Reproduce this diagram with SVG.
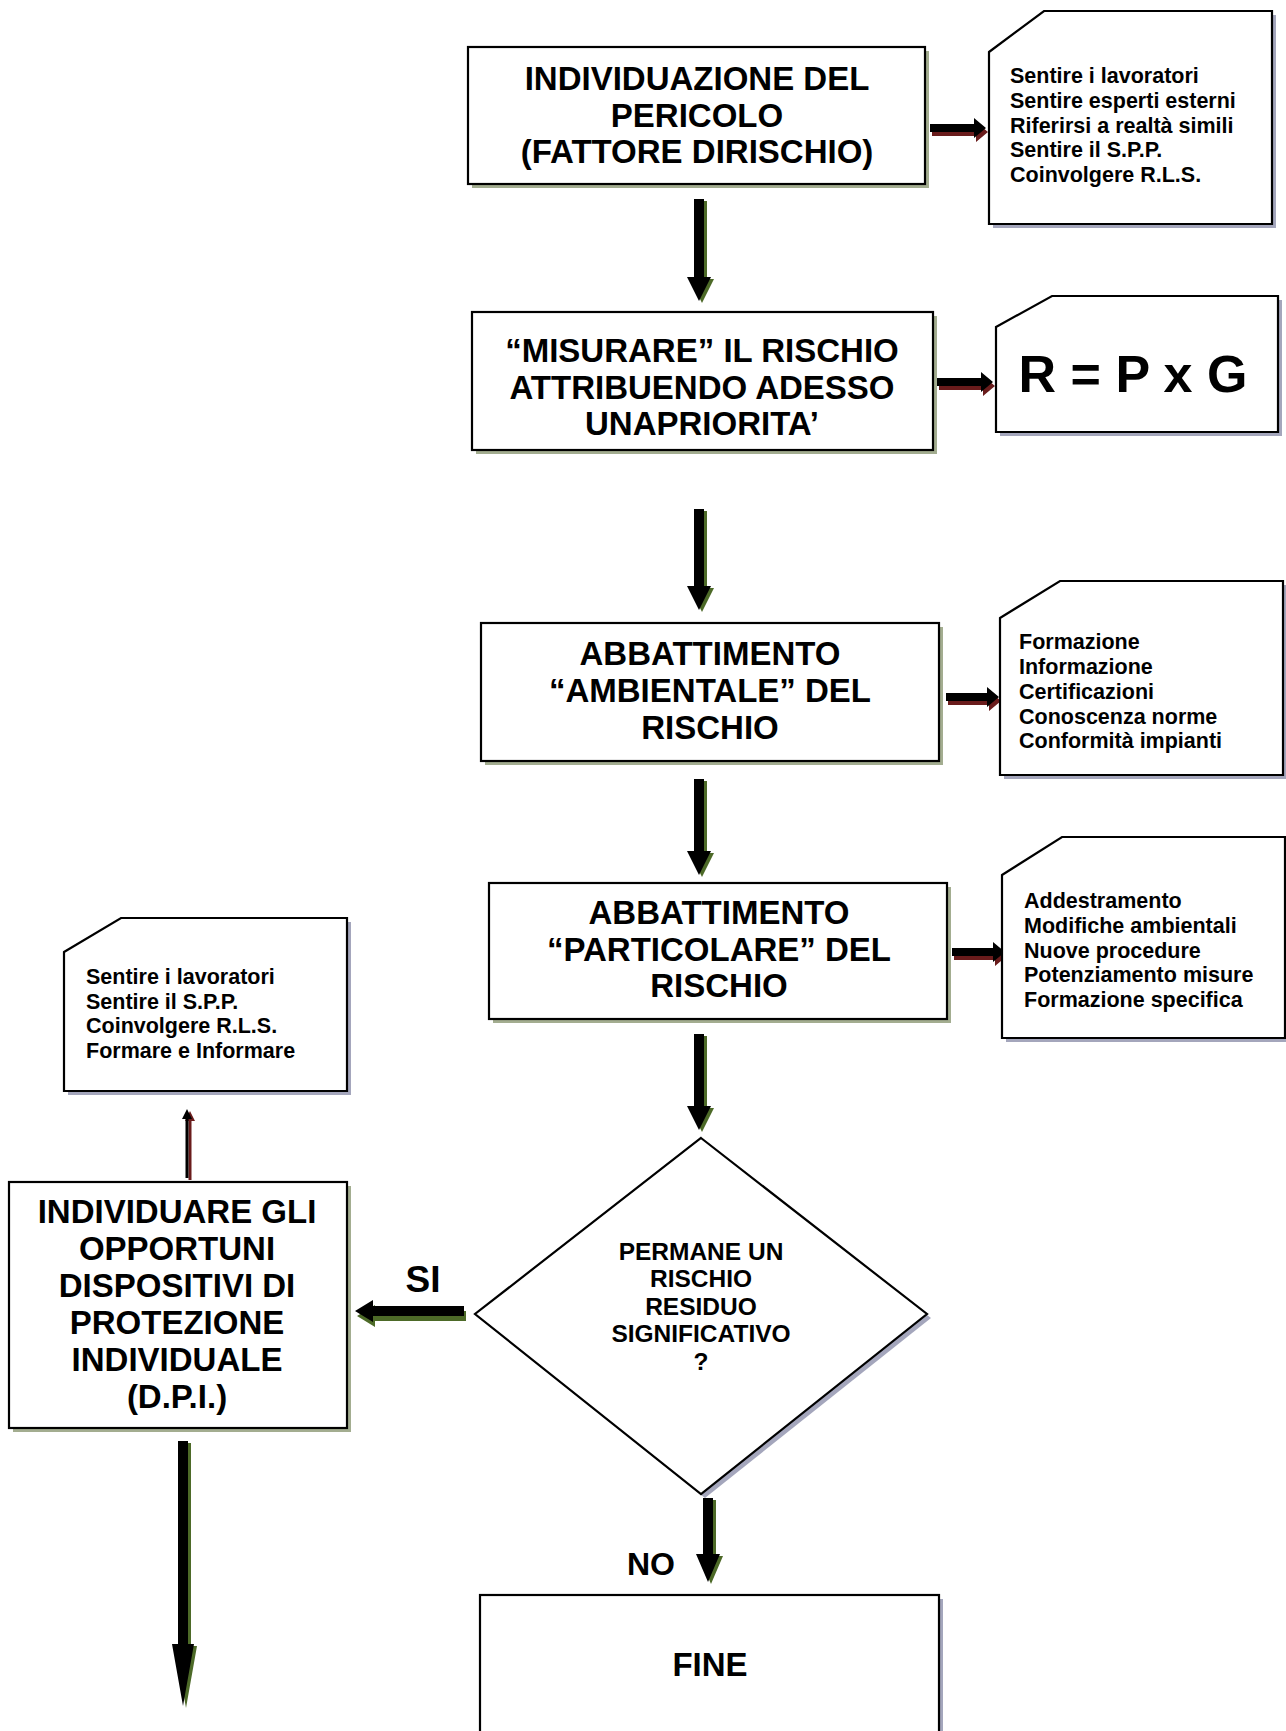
<svg xmlns="http://www.w3.org/2000/svg" xmlns:xlink="http://www.w3.org/1999/xlink" width="1286" height="1731" viewBox="0 0 1286 1731">
<style>
.box{fill:#fff;stroke:#000;stroke-width:2.2}
.bsh{fill:#a3ad90}
.nsh{fill:#a4a6bc}
.t{font-family:"Liberation Sans",Arial,sans-serif;font-weight:bold;fill:#000}
.big{font-size:33px;text-anchor:middle}
.note{font-size:21.5px}
.dia{font-size:24.5px;text-anchor:middle}
.blk{fill:#000}
.shR{fill:#6a1c1c}
.shG{fill:#4d6a28}
</style>
<defs>
<path id="ar1" d="M930 124 H974 V118 L986 128 L974 138 V132 H930 Z"/>
<path id="ar2" d="M937 378 H981 V372 L993 382 L981 392 V386 H937 Z"/>
<path id="ar3" d="M946 693 H987 V687 L999 697 L987 707 V701 H946 Z"/>
<path id="ar4" d="M952 948 H993 V942 L1005 952 L993 962 V956 H952 Z"/>
<path id="d1" d="M694 199 V277 H687 L699 301 L711 277 H704 V199 Z"/>
<path id="d2" d="M694 509 V586 H687 L699 610 L711 586 H704 V509 Z"/>
<path id="d3" d="M694 779 V851 H687 L699 875 L711 851 H704 V779 Z"/>
<path id="d4" d="M694 1034 V1106 H687 L699 1130 L711 1106 H704 V1034 Z"/>
<path id="dno" d="M703 1498 V1554 H696 L708 1582 L720 1554 H713 V1498 Z"/>
<path id="ddpi" d="M178 1441 V1644 H172 L183 1706 L194 1644 H188 V1441 Z"/>
<path id="asi" d="M464 1306 H373 V1300 L355 1311 L373 1322 V1316 H464 Z"/>
<path id="aup" d="M185.5 1178 V1119 H182 L187 1109 L192 1119 H188.5 V1178 Z"/>
</defs>

<g id="connectors">
<use xlink:href="#ar1" class="shR" x="2" y="4"/><use xlink:href="#ar1" class="blk"/>
<use xlink:href="#ar2" class="shR" x="2" y="4"/><use xlink:href="#ar2" class="blk"/>
<use xlink:href="#ar3" class="shR" x="2" y="4"/><use xlink:href="#ar3" class="blk"/>
<use xlink:href="#ar4" class="shR" x="2" y="4"/><use xlink:href="#ar4" class="blk"/>
<use xlink:href="#d1" class="shG" x="3" y="2"/><use xlink:href="#d1" class="blk"/>
<use xlink:href="#d2" class="shG" x="3" y="2"/><use xlink:href="#d2" class="blk"/>
<use xlink:href="#d3" class="shG" x="3" y="2"/><use xlink:href="#d3" class="blk"/>
<use xlink:href="#d4" class="shG" x="3" y="2"/><use xlink:href="#d4" class="blk"/>
<use xlink:href="#dno" class="shG" x="3" y="2"/><use xlink:href="#dno" class="blk"/>
<use xlink:href="#ddpi" class="shG" x="3" y="2"/><use xlink:href="#ddpi" class="blk"/>
<use xlink:href="#asi" class="shG" x="2" y="5"/><use xlink:href="#asi" class="blk"/>
<use xlink:href="#aup" class="shR" x="3" y="2"/><use xlink:href="#aup" class="blk"/>
</g>

<g id="box1">
<rect class="bsh" x="472" y="51" width="457" height="137"/>
<rect class="box" x="468" y="47" width="457" height="137"/>
<text class="t big" x="697"><tspan y="90">INDIVIDUAZIONE DEL</tspan><tspan x="697" y="127">PERICOLO</tspan><tspan x="697" y="163">(FATTORE DIRISCHIO)</tspan></text>
</g>

<g id="note1">
<path class="nsh" d="M993 56 L1048 15 H1276 V228 H993 Z"/>
<path class="box" d="M989 52 L1044 11 H1272 V224 H989 Z"/>
<text class="t note" x="1010"><tspan y="83">Sentire i lavoratori</tspan><tspan x="1010" y="108">Sentire esperti esterni</tspan><tspan x="1010" y="133">Riferirsi a realtà simili</tspan><tspan x="1010" y="157">Sentire il S.P.P.</tspan><tspan x="1010" y="182">Coinvolgere R.L.S.</tspan></text>
</g>

<g id="box2">
<rect class="bsh" x="476" y="316" width="461" height="138"/>
<rect class="box" x="472" y="312" width="461" height="138"/>
<text class="t big" x="702"><tspan y="362">“MISURARE” IL RISCHIO</tspan><tspan x="702" y="399">ATTRIBUENDO ADESSO</tspan><tspan x="702" y="435">UNAPRIORITA’</tspan></text>
</g>

<g id="note2">
<path class="nsh" d="M1000 331 L1056 300 H1282 V436 H1000 Z"/>
<path class="box" d="M996 327 L1052 296 H1278 V432 H996 Z"/>
<text class="t" x="1133" y="392" style="font-size:52px;text-anchor:middle">R = P x G</text>
</g>

<g id="box3">
<rect class="bsh" x="485" y="627" width="458" height="138"/>
<rect class="box" x="481" y="623" width="458" height="138"/>
<text class="t big" x="710"><tspan y="665">ABBATTIMENTO</tspan><tspan x="710" y="702">“AMBIENTALE” DEL</tspan><tspan x="710" y="739">RISCHIO</tspan></text>
</g>

<g id="note3">
<path class="nsh" d="M1004 622 L1064 585 H1287 V779 H1004 Z"/>
<path class="box" d="M1000 618 L1060 581 H1283 V775 H1000 Z"/>
<text class="t note" x="1019"><tspan y="649">Formazione</tspan><tspan x="1019" y="674">Informazione</tspan><tspan x="1019" y="699">Certificazioni</tspan><tspan x="1019" y="724">Conoscenza norme</tspan><tspan x="1019" y="748">Conformità impianti</tspan></text>
</g>

<g id="box4">
<rect class="bsh" x="493" y="887" width="458" height="136"/>
<rect class="box" x="489" y="883" width="458" height="136"/>
<text class="t big" x="719"><tspan y="924">ABBATTIMENTO</tspan><tspan x="719" y="961">“PARTICOLARE” DEL</tspan><tspan x="719" y="997">RISCHIO</tspan></text>
</g>

<g id="note4">
<path class="nsh" d="M1006 879 L1066 841 H1289 V1042 H1006 Z"/>
<path class="box" d="M1002 875 L1062 837 H1285 V1038 H1002 Z"/>
<text class="t note" x="1024"><tspan y="908">Addestramento</tspan><tspan x="1024" y="933">Modifiche ambientali</tspan><tspan x="1024" y="958">Nuove procedure</tspan><tspan x="1024" y="982">Potenziamento misure</tspan><tspan x="1024" y="1007">Formazione specifica</tspan></text>
</g>

<g id="decision">
<polygon class="nsh" points="705,1142 931,1318 705,1498 479,1318"/>
<polygon class="box" points="701,1138 927,1314 701,1494 475,1314"/>
<text class="t dia" x="701"><tspan y="1260">PERMANE UN</tspan><tspan x="701" y="1287">RISCHIO</tspan><tspan x="701" y="1315">RESIDUO</tspan><tspan x="701" y="1342">SIGNIFICATIVO</tspan><tspan x="701" y="1370">?</tspan></text>
</g>

<g id="note5">
<path class="nsh" d="M68 956 L125 922 H351 V1095 H68 Z"/>
<path class="box" d="M64 952 L121 918 H347 V1091 H64 Z"/>
<text class="t note" x="86"><tspan y="984">Sentire i lavoratori</tspan><tspan x="86" y="1009">Sentire il S.P.P.</tspan><tspan x="86" y="1033">Coinvolgere R.L.S.</tspan><tspan x="86" y="1058">Formare e Informare</tspan></text>
</g>

<g id="box5">
<rect class="bsh" x="13" y="1186" width="338" height="246"/>
<rect class="box" x="9" y="1182" width="338" height="246"/>
<text class="t big" x="177"><tspan y="1223">INDIVIDUARE GLI</tspan><tspan x="177" y="1260">OPPORTUNI</tspan><tspan x="177" y="1297">DISPOSITIVI DI</tspan><tspan x="177" y="1334">PROTEZIONE</tspan><tspan x="177" y="1371">INDIVIDUALE</tspan><tspan x="177" y="1408">(D.P.I.)</tspan></text>
</g>

<g id="labels">
<text class="t" x="423" y="1292" style="font-size:37px;text-anchor:middle">SI</text>
<text class="t" x="651" y="1575" style="font-size:32px;text-anchor:middle">NO</text>
</g>

<g id="fine">
<rect class="nsh" x="484" y="1599" width="459" height="140"/>
<rect class="box" x="480" y="1595" width="459" height="140"/>
<text class="t big" x="710" y="1676">FINE</text>
</g>
</svg>
